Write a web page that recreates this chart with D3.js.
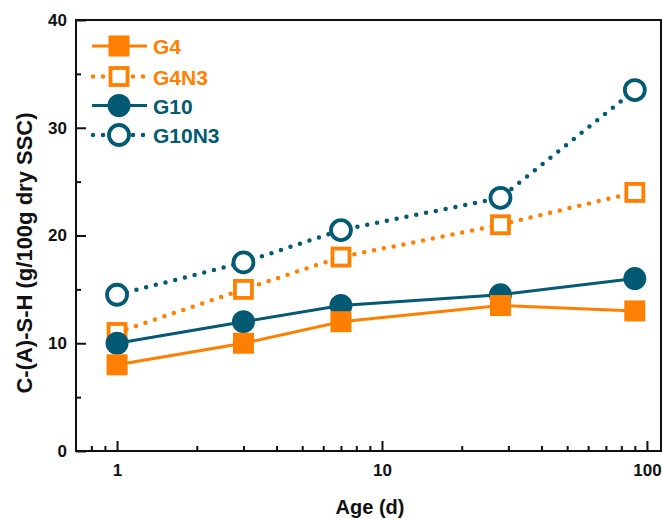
<!DOCTYPE html>
<html>
<head>
<meta charset="utf-8">
<script src="https://cdn.jsdelivr.net/npm/d3@7"></script>
<style>
  body { margin: 0; background: #fff; }
  svg text { font-family: "Liberation Sans", Arial, sans-serif; font-weight: bold; }
</style>
</head>
<body>
<div id="chart"></div>
<script>
// chart data
const ages = [1, 3, 7, 28, 90];
const seriesNames = ["G4", "G4N3", "G10", "G10N3"];
const g4 = [8, 10, 12, 13.5, 13];
const g4n3 = [11, 15, 18, 21, 24];
const g10 = [10, 12, 13.5, 14.5, 16];
const g10n3 = [14.5, 17.5, 20.5, 23.5, 33.5];
const yTicks = [0, 10, 20, 30, 40];
const xTickLabels = [1, 10, 100];

const orange = "#ff7f00";
const teal = "#045a72";

const series = [
    { name: seriesNames[0], values: g4, color: orange, shape: "square", open: false },
    { name: seriesNames[1], values: g4n3, color: orange, shape: "square", open: true },
    { name: seriesNames[2], values: g10, color: teal, shape: "circle", open: false },
    { name: seriesNames[3], values: g10n3, color: teal, shape: "circle", open: true }
];

const width = 662, height = 519;
const margin = { top: 20, right: 1, bottom: 68, left: 76 };

const svg = d3.select("#chart").append("svg")
    .attr("width", width)
    .attr("height", height);

const x = d3.scaleLog().domain([0.7, 113]).range([margin.left, width - margin.right]);
const y = d3.scaleLinear().domain([0, 40]).range([height - margin.bottom, margin.top]);

// frame
svg.append("rect")
    .attr("x", margin.left).attr("y", margin.top)
    .attr("width", width - margin.right - margin.left)
    .attr("height", height - margin.bottom - margin.top)
    .attr("fill", "none").attr("stroke", "#111").attr("stroke-width", 2);

// x axis with minor ticks (inward)
const xMinor = [0.8, 0.9, 2, 3, 4, 5, 6, 7, 8, 9, 20, 30, 40, 50, 60, 70, 80, 90];
svg.append("g")
    .attr("transform", `translate(0,${y(0)})`)
    .call(d3.axisBottom(x).tickValues(xMinor).tickSize(-5).tickFormat(""))
    .call(g => g.select(".domain").remove())
    .selectAll("line").attr("stroke", "#111").attr("stroke-width", 2);

svg.append("g")
    .attr("transform", `translate(0,${y(0)})`)
    .call(d3.axisBottom(x).tickValues(xTickLabels).tickSize(-10).tickPadding(13).tickFormat(d3.format("d")))
    .call(g => g.select(".domain").remove())
    .call(g => g.selectAll("line").attr("stroke", "#111").attr("stroke-width", 2))
    .call(g => g.selectAll("text").attr("font-size", 17).attr("fill", "#111"));

// y axis
svg.append("g")
    .attr("transform", `translate(${margin.left},0)`)
    .call(d3.axisLeft(y).tickValues([5, 15, 25, 35]).tickSize(-5).tickFormat(""))
    .call(g => g.select(".domain").remove())
    .selectAll("line").attr("stroke", "#111").attr("stroke-width", 2);

svg.append("g")
    .attr("transform", `translate(${margin.left},0)`)
    .call(d3.axisLeft(y).tickValues(yTicks).tickSize(-10).tickPadding(9).tickFormat(d3.format("d")))
    .call(g => g.select(".domain").remove())
    .call(g => g.selectAll("line").attr("stroke", "#111").attr("stroke-width", 2))
    .call(g => g.selectAll("text").attr("font-size", 17).attr("fill", "#111"));

// axis titles
svg.append("text")
    .attr("x", 370)
    .attr("y", 514)
    .attr("text-anchor", "middle")
    .attr("font-size", 20)
    .attr("fill", "#111")
    .text("Age (d)");

svg.append("text")
    .attr("transform", "translate(32,253) rotate(-90)")
    .attr("text-anchor", "middle")
    .attr("font-size", 22)
    .attr("fill", "#111")
    .text("C-(A)-S-H (g/100g dry SSC)");

const line = d3.line().x((d, i) => x(ages[i])).y(d => y(d));

function drawMarker(g, shape, open, color, cx, cy) {
    if (shape === "square") {
        const s = open ? 17 : 21;
        g.append("rect")
            .attr("x", cx - s / 2).attr("y", cy - s / 2)
            .attr("width", s).attr("height", s)
            .attr("fill", open ? "#fff" : color)
            .attr("stroke", color)
            .attr("stroke-width", open ? 3.8 : 0);
    } else {
        g.append("circle")
            .attr("cx", cx).attr("cy", cy)
            .attr("r", open ? 10 : 11.5)
            .attr("fill", open ? "#fff" : color)
            .attr("stroke", color)
            .attr("stroke-width", open ? 3.8 : 0);
    }
}

function styleLine(p, s) {
    p.attr("fill", "none").attr("stroke", s.color);
    if (s.open) {
        p.attr("stroke-width", 4.5).attr("stroke-linecap", "round").attr("stroke-dasharray", "0 10");
    } else {
        p.attr("stroke-width", 3);
    }
}

// draw order: G10N3, G4N3, G10, G4
[series[3], series[1], series[2], series[0]].forEach(s => {
    const g = svg.append("g");
    g.append("path").attr("d", line(s.values)).call(p => styleLine(p, s));
    s.values.forEach((v, i) => drawMarker(g, s.shape, s.open, s.color, x(ages[i]), y(v)));
});

// legend
const legendRows = [46, 76.5, 105.5, 135];
series.forEach((s, i) => {
    const g = svg.append("g");
    const ly = legendRows[i];
    g.append("line")
        .attr("x1", s.open ? 93 : 92).attr("x2", s.open ? 144 : 147)
        .attr("y1", ly).attr("y2", ly)
        .call(p => styleLine(p, s));
    drawMarker(g, s.shape, s.open, s.color, 119, ly);
    g.append("text")
        .attr("x", 153).attr("y", ly + 8)
        .attr("font-size", 21)
        .attr("fill", s.color)
        .text(s.name);
});
</script>
</body>
</html>
